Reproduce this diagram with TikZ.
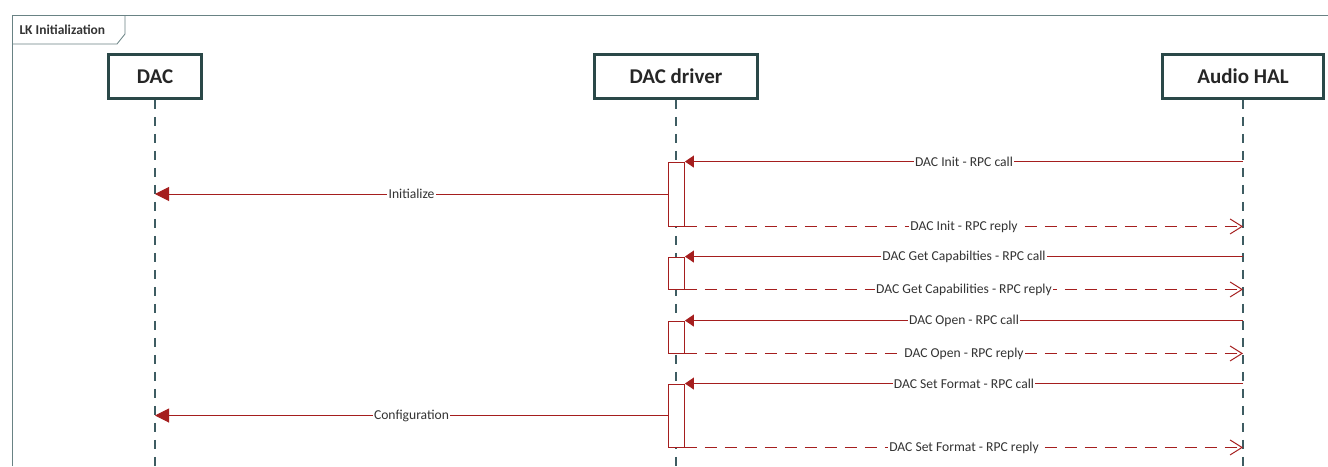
\documentclass[tikz,border=0pt]{standalone}
\usepackage{fontspec}
\setmainfont{Carlito}
\usetikzlibrary{arrows.meta}

\definecolor{msgred}{RGB}{165,30,30}
\definecolor{boxteal}{RGB}{42,72,72}
\definecolor{lifec}{RGB}{62,92,98}
\definecolor{framec}{RGB}{105,130,132}

\begin{document}
\begin{tikzpicture}[x=1pt,y=-1pt,
  every node/.style={font=\fontsize{13.6}{15}\selectfont,text=black!80},
  actor/.style={draw=boxteal,line width=2.6pt,fill=white,minimum width=#1,minimum height=44pt,
    inner sep=0pt,font=\fontsize{21}{24}\selectfont\bfseries,text=black!85},
  life/.style={draw=lifec,line width=1.4pt,dash pattern=on 9pt off 8pt},
  act/.style={draw=msgred,fill=white,line width=0.9pt,minimum width=16pt,inner sep=0pt},
  call/.style={draw=msgred,line width=1pt,-{Triangle[length=9pt,width=12pt]}},
  sync/.style={draw=msgred,line width=1pt,-{Triangle[length=14pt,width=14pt]}},
  reply/.style={draw=msgred,line width=1.1pt,dash pattern=on 12pt off 8pt,
    -{Straight Barb[length=12pt,width=15pt,line width=1pt]}},
  lbl/.style={midway,fill=white,inner sep=1.2pt}]
\useasboundingbox (0,0) rectangle (1328,466);
\fill[white] (0,0) rectangle (1328,466);
\coordinate (bot) at (0,466);
% frame and its tab
\draw[framec,line width=0.8pt] (12,466) -- (12,15) -- (1328,15);
\draw[framec,line width=0.8pt] (12,44) -- (117,44) -- (125,34) -- (125,15);
\node[anchor=west,font=\fontsize{13.5}{15}\selectfont\bfseries] (frm) at (16,29.5) {LK Initialization};
% lifelines
\node[actor=93pt] (dac) at (155,76.5) {DAC};
\node[actor=163pt] (drv) at (676,76.5) {DAC driver};
\node[actor=161pt] (hal) at (1243,76.5) {Audio HAL};
\foreach \n in {dac,drv,hal} \draw[life] (\n.south) -- (\n.south |- bot);
% activations
\foreach \i/\y/\h in {1/194/64,2/273/32,3/337/32,4/415.5/63}
  \node[act,minimum height=\h pt] (a\i) at (676.5,\y) {};
% messages
\foreach \i/\c/\r in {1/DAC Init/DAC Init,2/DAC Get Capabilties/DAC Get Capabilities,
    3/DAC Open/DAC Open,4/DAC Set Format/DAC Set Format}{
  \draw[call] (hal |- a\i.north) -- (a\i.north east) node[lbl] {\c{} - RPC call};
  \draw[reply] (a\i.south east) -- (hal |- a\i.south) node[lbl] {\r{} - RPC reply};
}
\draw[sync] (a1.west) -- (dac |- a1.west) node[lbl] {Initialize};
\draw[sync] (a4.west) -- (dac |- a4.west) node[lbl] {Configuration};
\end{tikzpicture}
\end{document}
